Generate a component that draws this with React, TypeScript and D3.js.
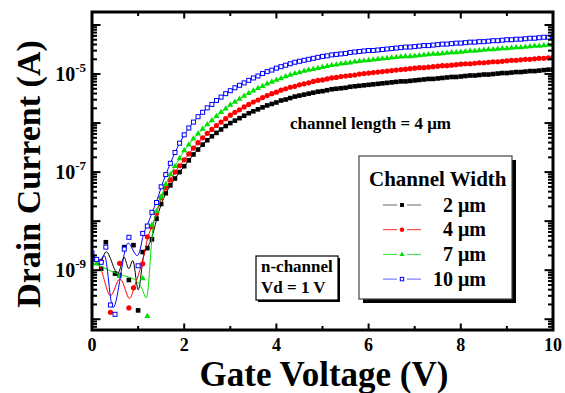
import { useEffect, useRef } from "react";
import * as d3 from "d3";

// gate sweep, 0 V to 10 V in 0.1 V steps
const GATE_V = d3.range(0, 101).map((i) => i / 10);

// log10 of drain current (A) at each gate step; null = no point shown
const LOG_ID_2UM = [
  -8.75, null, -8.97, -8.43, null, -9.07, -9.1, -8.53, -9.2, -8.49,
  -9.82, -8.63, -8.55, -8.37, -7.95, -7.65, -7.43, -7.27, -7.13, -7.0,
  -6.88, -6.76, -6.64, -6.54, -6.44, -6.35, -6.27, -6.2, -6.13, -6.06,
  -6.0, -5.95, -5.9, -5.85, -5.8, -5.76, -5.72, -5.68, -5.64, -5.61,
  -5.58, -5.54, -5.52, -5.49, -5.46, -5.44, -5.42, -5.4, -5.38, -5.36,
  -5.35, -5.33, -5.31, -5.3, -5.29, -5.28, -5.26, -5.25, -5.24, -5.23,
  -5.22, -5.21, -5.2, -5.19, -5.18, -5.17, -5.16, -5.15, -5.15, -5.14,
  -5.13, -5.12, -5.11, -5.1, -5.1, -5.09, -5.08, -5.07, -5.06, -5.06,
  -5.05, -5.04, -5.03, -5.03, -5.02, -5.01, -5.01, -5.0, -4.99, -4.98,
  -4.98, -4.97, -4.96, -4.96, -4.95, -4.94, -4.94, -4.93, -4.92, -4.91,
  -4.91,
];
const LOG_ID_4UM = [
  -8.8, null, -8.82, null, -9.86, null, -8.86, null, -9.77, -9.36,
  null, -8.87, -8.32, -8.12, -7.84, -7.52, -7.32, -7.16, -7.0, -6.87,
  -6.75, -6.63, -6.51, -6.4, -6.3, -6.21, -6.13, -6.05, -5.98, -5.91,
  -5.84, -5.78, -5.73, -5.67, -5.62, -5.57, -5.53, -5.48, -5.44, -5.4,
  -5.37, -5.33, -5.3, -5.27, -5.25, -5.22, -5.2, -5.18, -5.15, -5.13,
  -5.12, -5.1, -5.08, -5.07, -5.05, -5.04, -5.03, -5.02, -5.0, -4.99,
  -4.98, -4.97, -4.96, -4.95, -4.94, -4.93, -4.92, -4.91, -4.9, -4.89,
  -4.88, -4.87, -4.87, -4.86, -4.85, -4.84, -4.83, -4.83, -4.82, -4.81,
  -4.8, -4.79, -4.79, -4.78, -4.77, -4.77, -4.76, -4.75, -4.75, -4.74,
  -4.73, -4.72, -4.72, -4.71, -4.7, -4.7, -4.69, -4.68, -4.68, -4.67,
  -4.66,
];
const LOG_ID_7UM = [
  -8.86, -8.87, null, null, null, null, -9.12, null, null, null,
  null, -9.17, -9.94, -8.08, -7.8, -7.5, -7.25, -7.05, -6.88, -6.72,
  -6.56, -6.44, -6.32, -6.22, -6.12, -6.03, -5.95, -5.86, -5.78, -5.71,
  -5.63, -5.57, -5.51, -5.45, -5.39, -5.34, -5.29, -5.25, -5.2, -5.16,
  -5.12, -5.09, -5.05, -5.02, -4.99, -4.97, -4.94, -4.92, -4.9, -4.88,
  -4.86, -4.84, -4.82, -4.81, -4.79, -4.78, -4.77, -4.75, -4.74, -4.73,
  -4.72, -4.71, -4.7, -4.69, -4.68, -4.67, -4.66, -4.65, -4.64, -4.64,
  -4.63, -4.62, -4.61, -4.6, -4.59, -4.59, -4.58, -4.57, -4.56, -4.56,
  -4.55, -4.54, -4.53, -4.53, -4.52, -4.51, -4.5, -4.5, -4.49, -4.48,
  -4.48, -4.47, -4.46, -4.46, -4.45, -4.44, -4.43, -4.43, -4.42, -4.41,
  -4.41,
];
const LOG_ID_10UM = [
  -8.65, -8.78, -8.84, -8.53, -9.71, -9.9, null, -8.57, -8.33, null,
  -8.91, -8.25, -8.1, -7.82, -7.62, -7.3, -7.05, -6.82, -6.6, -6.41,
  -6.24, -6.1, -5.98, -5.87, -5.78, -5.69, -5.62, -5.54, -5.47, -5.4,
  -5.34, -5.28, -5.23, -5.18, -5.13, -5.08, -5.04, -4.99, -4.95, -4.92,
  -4.88, -4.85, -4.82, -4.79, -4.76, -4.74, -4.72, -4.7, -4.68, -4.66,
  -4.64, -4.63, -4.61, -4.6, -4.59, -4.58, -4.56, -4.55, -4.54, -4.53,
  -4.52, -4.52, -4.51, -4.5, -4.49, -4.48, -4.47, -4.46, -4.45, -4.45,
  -4.44, -4.43, -4.42, -4.42, -4.41, -4.4, -4.39, -4.39, -4.38, -4.37,
  -4.37, -4.36, -4.35, -4.35, -4.34, -4.34, -4.33, -4.32, -4.32, -4.31,
  -4.3, -4.3, -4.29, -4.29, -4.28, -4.27, -4.27, -4.26, -4.25, -4.25,
  -4.24,
];

const WIDTH_LABELS = ["2 μm", "4 μm", "7 μm", "10 μm"];
const X_TICK_LABELS = [0, 2, 4, 6, 8, 10];
const Y_LABEL_EXPONENTS = [-9, -7, -5];

type Marker = "square" | "circle" | "triangle" | "open";

const SERIES: { label: string; values: (number | null)[]; color: string; legendLine: string; marker: Marker }[] = [
  { label: WIDTH_LABELS[0], values: LOG_ID_2UM, color: "#000000", legendLine: "#666666", marker: "square" },
  { label: WIDTH_LABELS[1], values: LOG_ID_4UM, color: "#ff0000", legendLine: "#ff3030", marker: "circle" },
  { label: WIDTH_LABELS[2], values: LOG_ID_7UM, color: "#00e000", legendLine: "#30e030", marker: "triangle" },
  { label: WIDTH_LABELS[3], values: LOG_ID_10UM, color: "#0000ff", legendLine: "#6060ff", marker: "open" },
];

const FONT = "'Liberation Serif', 'Times New Roman', serif";

function drawMarker(
  g: d3.Selection<SVGGElement, unknown, null, undefined>,
  kind: Marker,
  cx: number,
  cy: number,
  color: string,
  s: number,
) {
  if (kind === "square") {
    g.append("rect").attr("x", cx - 2.3 * s).attr("y", cy - 2.3 * s)
      .attr("width", 4.6 * s).attr("height", 4.6 * s).attr("fill", color);
  } else if (kind === "circle") {
    g.append("circle").attr("cx", cx).attr("cy", cy).attr("r", 2.6 * s).attr("fill", color);
  } else if (kind === "triangle") {
    g.append("path")
      .attr("d", d3.symbol(d3.symbolTriangle, 16 * s * s)())
      .attr("transform", `translate(${cx},${cy})`)
      .attr("fill", color);
  } else {
    g.append("rect").attr("x", cx - 2 * s).attr("y", cy - 2 * s)
      .attr("width", 4 * s).attr("height", 4 * s)
      .attr("fill", "#fff").attr("stroke", color).attr("stroke-width", 1);
  }
}

export default function App() {
  const ref = useRef<SVGSVGElement | null>(null);

  useEffect(() => {
    const svg = d3.select(ref.current);
    svg.selectAll("*").remove();

    const W = 565;
    const H = 393;
    const L = 92, R = 553, T = 12, B = 330;

    const x = d3.scaleLinear().domain([0, 10]).range([L, R]);
    const y = d3.scaleLog().domain([Math.pow(10, -10.22), Math.pow(10, -3.735)]).range([B, T]);
    const ly = (v: number) => y(Math.pow(10, v));

    svg.append("rect").attr("width", W).attr("height", H).attr("fill", "#fff");
    svg.append("defs").append("clipPath").attr("id", "plotclip")
      .append("rect").attr("x", L).attr("y", T).attr("width", R - L).attr("height", B - T);

    const plot = svg.append("g").attr("clip-path", "url(#plotclip)");
    const line = d3.line<[number, number]>()
      .x((d) => x(d[0]))
      .y((d) => ly(d[1]))
      .curve(d3.curveBasis);

    SERIES.forEach((s) => {
      const pts = GATE_V.map((v, i) => [v, s.values[i]])
        .filter((d) => d[1] != null) as [number, number][];
      plot.append("path").attr("d", line(pts)).attr("fill", "none")
        .attr("stroke", s.color).attr("stroke-width", 1);
      const g = plot.append("g");
      pts.forEach(([v, lv]) => drawMarker(g, s.marker, x(v), ly(lv), s.color, 1));
    });

    // ticks
    const ticks = svg.append("g").attr("stroke", "#000");
    for (let v = 0; v <= 10; v++) {
      const len = v % 2 === 0 ? 6.5 : 4;
      ticks.append("line").attr("x1", x(v)).attr("x2", x(v)).attr("y1", B).attr("y2", B - len).attr("stroke-width", 2);
      ticks.append("line").attr("x1", x(v)).attr("x2", x(v)).attr("y1", T).attr("y2", T + len).attr("stroke-width", 2);
    }
    const [d0, d1] = y.domain();
    for (let e = -11; e <= -3; e++) {
      for (let k = 1; k <= 9; k++) {
        const v = k * Math.pow(10, e);
        if (v < d0 || v > d1) continue;
        const len = k === 1 ? 8.5 : 5;
        const yy = y(v);
        ticks.append("line").attr("x1", L).attr("x2", L + len).attr("y1", yy).attr("y2", yy).attr("stroke-width", 2);
        ticks.append("line").attr("x1", R).attr("x2", R - len).attr("y1", yy).attr("y2", yy).attr("stroke-width", 2);
      }
    }

    svg.append("rect").attr("x", L).attr("y", T).attr("width", R - L).attr("height", B - T)
      .attr("fill", "none").attr("stroke", "#000").attr("stroke-width", 3);

    // tick labels
    X_TICK_LABELS.forEach((v) => {
      svg.append("text").attr("x", x(v)).attr("y", 351).attr("text-anchor", "middle")
        .attr("font-family", FONT).attr("font-weight", "bold").attr("font-size", 18).text(String(v));
    });
    Y_LABEL_EXPONENTS.forEach((e) => {
      const t = svg.append("text").attr("x", 86).attr("y", ly(e) + 7).attr("text-anchor", "end")
        .attr("font-family", FONT).attr("font-weight", "bold").attr("font-size", 20);
      t.append("tspan").text("10");
      t.append("tspan").attr("dy", -9).attr("font-size", 13).text(String(e));
    });

    // axis titles
    svg.append("text").attr("x", 324).attr("y", 386).attr("text-anchor", "middle")
      .attr("font-family", FONT).attr("font-weight", "bold").attr("font-size", 35)
      .text("Gate Voltage (V)");
    svg.append("text").attr("transform", "translate(40,174) rotate(-90)").attr("text-anchor", "middle")
      .attr("font-family", FONT).attr("font-weight", "bold").attr("font-size", 34)
      .text("Drain Current (A)");

    // annotation
    svg.append("text").attr("x", 290).attr("y", 129)
      .attr("font-family", FONT).attr("font-weight", "bold").attr("font-size", 17)
      .text("channel length = 4 μm");

    // n-channel box
    svg.append("rect").attr("x", 258).attr("y", 258).attr("width", 82).attr("height", 44).attr("fill", "#000");
    svg.append("rect").attr("x", 256).attr("y", 256).attr("width", 82).attr("height", 44)
      .attr("fill", "#fff").attr("stroke", "#000").attr("stroke-width", 1.2);
    ["n-channel", "Vd = 1 V"].forEach((s, i) => {
      svg.append("text").attr("x", 261).attr("y", 272 + i * 21)
        .attr("font-family", FONT).attr("font-weight", "bold").attr("font-size", 17).text(s);
    });

    // legend
    const lg = svg.append("g");
    lg.append("rect").attr("x", 363).attr("y", 160).attr("width", 153).attr("height", 143).attr("fill", "#000");
    lg.append("rect").attr("x", 359).attr("y", 156).attr("width", 153).attr("height", 143)
      .attr("fill", "#fff").attr("stroke", "#444").attr("stroke-width", 1.2);
    lg.append("text").attr("x", 369).attr("y", 186)
      .attr("font-family", FONT).attr("font-weight", "bold").attr("font-size", 21).text("Channel Width");
    SERIES.forEach((s, i) => {
      const cy = 205 + i * 24.7;
      lg.append("line").attr("x1", 383).attr("x2", 397).attr("y1", cy).attr("y2", cy)
        .attr("stroke", s.legendLine).attr("stroke-width", 1);
      lg.append("line").attr("x1", 407).attr("x2", 421).attr("y1", cy).attr("y2", cy)
        .attr("stroke", s.legendLine).attr("stroke-width", 1);
      drawMarker(lg as any, s.marker, 402, cy, s.color, 0.85);
      lg.append("text").attr("x", 486).attr("y", cy + 6.5).attr("text-anchor", "end")
        .attr("font-family", FONT).attr("font-weight", "bold").attr("font-size", 20).text(s.label);
    });
  }, []);

  return (
    <svg
      ref={ref}
      width={565}
      height={393}
      style={{ position: "absolute", left: 0, top: 0, display: "block" }}
    />
  );
}
